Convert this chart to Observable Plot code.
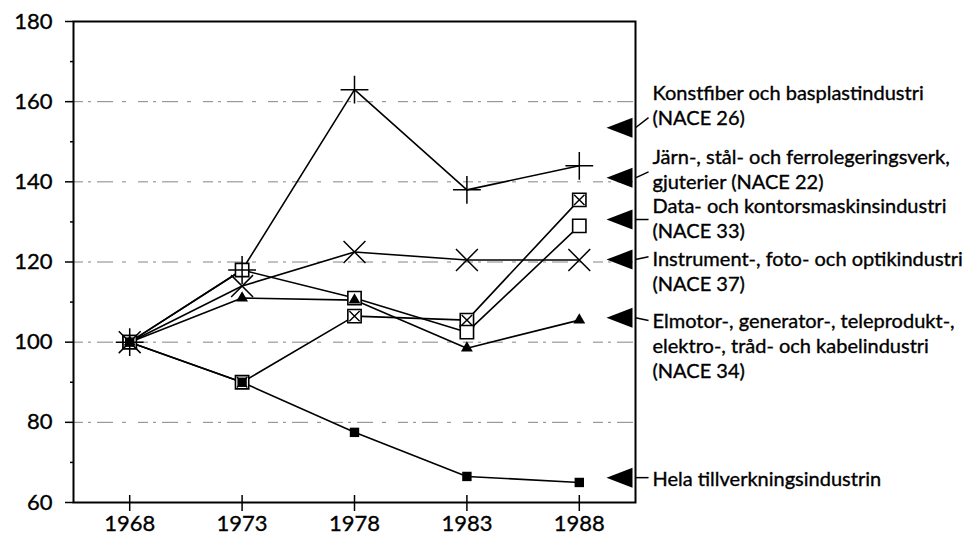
<!DOCTYPE html>
<html><head><meta charset="utf-8">
<script src="https://cdn.jsdelivr.net/npm/d3@7"></script>
<script src="https://cdn.jsdelivr.net/npm/@observablehq/plot@0.6"></script>
<style>body{margin:0;background:#fff} svg{display:block} svg text{stroke:black;stroke-width:0.35px}</style>
</head><body><div id="chart"></div>
<script>
// ---- data ----
const years = [1968, 1973, 1978, 1983, 1988];
const konstfiber = [100, 118, 163, 138, 144];      // plus marker
const jarn       = [100, 90, 106.5, 105.5, 135.5]; // boxed x marker
const dataInd    = [100, 118, 111, 102.5, 129];    // open square
const instrument = [100, 114, 122.5, 120.5, 120.5];// times marker
const elmotor    = [100, 111, 110.5, 98.5, 105.5]; // filled triangle
const hela       = [100, 90, 77.5, 66.5, 65];      // filled square

const yTicks = [60, 80, 100, 120, 140, 160, 180];
const yMinor = [70, 90, 110, 130, 150, 170];
const gridValues = [80, 100, 120, 140, 160];

const legendLabels = [
  "Konstfiber och basplastindustri\n(NACE 26)",
  "Järn-, stål- och ferrolegeringsverk,\ngjuterier (NACE 22)",
  "Data- och kontorsmaskinsindustri\n(NACE 33)",
  "Instrument-, foto- och optikindustri\n(NACE 37)",
  "Elmotor-, generator-, teleprodukt-,\nelektro-, tråd- och kabelindustri\n(NACE 34)",
  "Hela tillverkningsindustrin"
];
const legendArrowAt = [153.5, 141.0, 130.6, 120.6, 106.1, 66.2];
const legendLeaderTo = [156.0, 142.5, 130.6, 121.3, 105.4, 66.2];
const legendTextAt = [159.3, 143.4, 131.0, 118.0, 99.4, 66.2];

// ---- build tables ----
const seriesKeys = ["konst", "jarn", "data", "instr", "elmotor", "hela"];
const seriesValues = [konstfiber, jarn, dataInd, instrument, elmotor, hela];
const rows = seriesKeys.flatMap((k, i) => years.map((yr, j) => ({series: k, year: yr, value: seriesValues[i][j]})));
const pick = k => rows.filter(r => r.series === k);
const legend = legendLabels.map((label, i) => ({label, arrow: legendArrowAt[i], lead: legendLeaderTo[i], textY: legendTextAt[i]}));

const xMax = 1990.5;
const leftTri = {
  draw(ctx, size) {
    const r = Math.sqrt(size / Math.PI);
    const w = 1.3 * r, h = r;
    ctx.moveTo(-w, 0); ctx.lineTo(w, -h); ctx.lineTo(w, h); ctx.closePath();
  }
};

const chart = Plot.plot({
  width: 971,
  height: 538,
  marginLeft: 73,
  marginRight: 336,
  marginTop: 21,
  marginBottom: 36,
  style: {fontFamily: "Lato, 'Noto Sans', sans-serif", color: "black", background: "white"},
  x: {domain: [1965.5, xMax]},
  y: {domain: [60, 180]},
  marks: [
    Plot.ruleY(gridValues, {y: d => d, stroke: "#333", strokeWidth: 1, strokeDasharray: "10,5,3,6,16,9,4,12", strokeOpacity: 0.6}),
    Plot.frame({stroke: "black", strokeWidth: 2}),
    Plot.axisY(yTicks, {tickSize: 8, tickPadding: 13, fontSize: 22, label: null, strokeWidth: 1.5}),
    Plot.axisY(yMinor, {tickSize: 3, tickFormat: () => "", label: null, strokeWidth: 1.5}),
    Plot.axisX(years, {tickSize: 9, tickPadding: 4, fontSize: 22, tickFormat: d => String(d), label: null, strokeWidth: 1.5}),
    Plot.tickX(years, {x: d => d, insetTop: 474, stroke: "black", strokeWidth: 1.5}),
    Plot.line(rows, {x: "year", y: "value", z: "series", stroke: "black", strokeWidth: 1.6}),
    Plot.dot(pick("jarn"), {x: "year", y: "value", symbol: "square", r: 7.5, fill: "white", stroke: "black", strokeWidth: 1.6}),
    Plot.dot(pick("jarn"), {x: "year", y: "value", symbol: "times", r: 4.8, stroke: "black", strokeWidth: 1.4}),
    Plot.dot(pick("data"), {x: "year", y: "value", symbol: "square", r: 7.5, fill: "white", stroke: "black", strokeWidth: 1.6}),
    Plot.dot(pick("instr"), {x: "year", y: "value", symbol: "times", r: 10, stroke: "black", strokeWidth: 1.5}),
    Plot.dot(pick("konst"), {x: "year", y: "value", symbol: "plus", r: 9, stroke: "black", strokeWidth: 1.5}),
    Plot.dot(pick("elmotor"), {x: "year", y: "value", symbol: "triangle", r: 4.4, fill: "black"}),
    Plot.dot(pick("hela"), {x: "year", y: "value", symbol: "square", r: 5.3, fill: "black"}),
    // legend
    Plot.dot(legend, {x: () => xMax, y: "arrow", symbol: leftTri, r: 10, fill: "black", dx: -16}),
    Plot.link(legend, {x1: () => xMax, x2: () => xMax + 0.58, y1: "arrow", y2: "lead", stroke: "black", strokeWidth: 1.5}),
    Plot.text(legend, {x: () => xMax, y: "textY", text: "label", textAnchor: "start", dx: 17, fontSize: 20, lineHeight: 1.25, lineAnchor: "middle", fill: "black"})
  ]
});
document.getElementById("chart").append(chart);
</script>
</body></html>
